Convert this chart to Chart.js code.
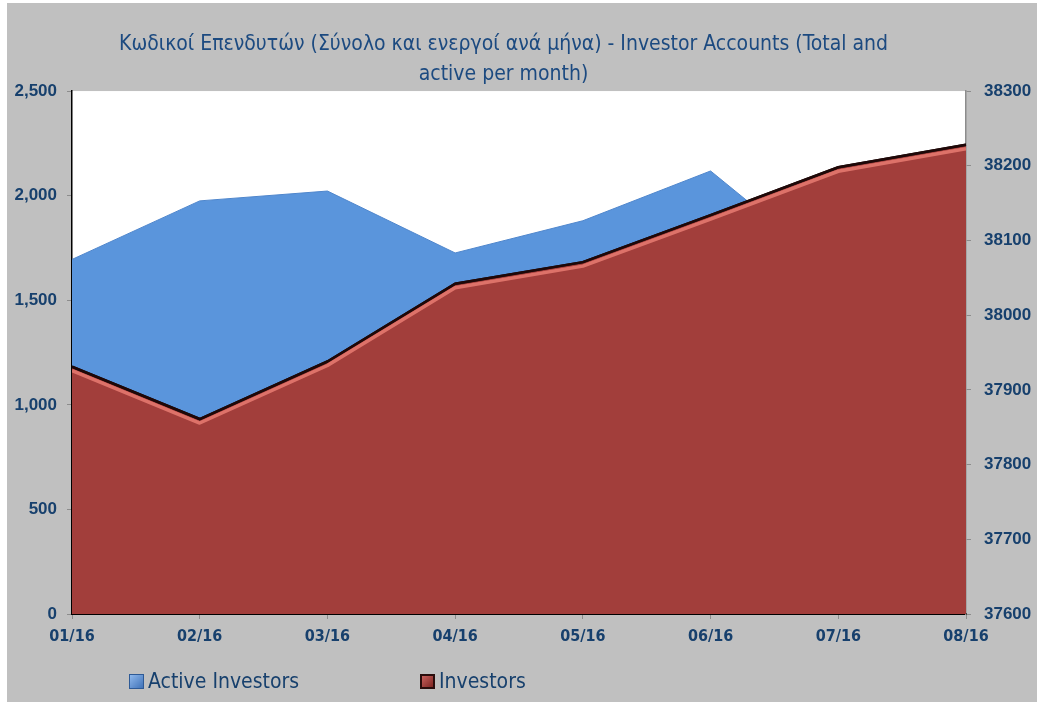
<!DOCTYPE html>
<html>
<head>
<meta charset="utf-8">
<script src="https://cdn.jsdelivr.net/npm/chart.js@4.4.1/dist/chart.umd.min.js"></script>
<style>
  html, body { margin: 0; padding: 0; background: #ffffff; }
  #fondo {
    position: absolute; left: 7px; top: 3px; width: 1030px; height: 699px;
    background: #c0c0c0;
  }
  #wrap { position: absolute; left: 0; top: 0; width: 1037px; height: 702px; }
  .leyenda {
    position: absolute; top: 668px; height: 26px; line-height: 26px;
    font-family: 'Liberation Sans Narrow', 'DejaVu Sans Condensed', sans-serif;
    font-size: 21px; color: #17406d; white-space: nowrap;
  }
  .caja {
    display: inline-block; width: 15px; height: 15px; vertical-align: -1px;
    margin-right: 4px; box-sizing: border-box;
  }
</style>
</head>
<body>
<div id="fondo"></div>
<div id="wrap"><canvas id="grafico" width="1037" height="702"></canvas></div>
<div class="leyenda" style="left:129px"><span class="caja" style="background:linear-gradient(135deg,#8fb8ec,#3f72b8);border:1px solid #2e5a96"></span>Active Investors</div>
<div class="leyenda" style="left:420px"><span class="caja" style="background:linear-gradient(135deg,#c9605c,#7d2522);border:2px solid #2a0d0c"></span>Investors</div>
<script>
// Datos
const meses = ["01/16", "02/16", "03/16", "04/16", "05/16", "06/16", "07/16", "08/16"];
const activos = [1695, 1975, 2022, 1726, 1880, 2118, 1620, 1660];
const inversores = [37931, 37861, 37938, 38042, 38071, 38134, 38198, 38228];

const titulo = ["Κωδικοί Επενδυτών (Σύνολο και ενεργοί ανά μήνα) - Investor Accounts (Total and", "active per month)"];

const azulTexto = "#17406d";
const fuenteEstrecha = "'Liberation Sans Narrow', 'DejaVu Sans Condensed', sans-serif";
const relleno = "\u00a0\u00a0\u00a0\u00a0\u00a0"; // desplaza el título un poco a la izquierda

// Fondo blanco del área de trazado
const fondoArea = {
  id: "fondoArea",
  beforeDraw(chart) {
    const { ctx, chartArea: a } = chart;
    ctx.save();
    ctx.fillStyle = "#ffffff";
    ctx.fillRect(a.left, a.top, a.right - a.left, a.bottom - a.top);
    ctx.restore();
  }
};

// Brillo rosado bajo el borde del área roja (usa los puntos ya escalados)
const brillo = {
  id: "brillo",
  afterDatasetsDraw(chart) {
    const pts = chart.getDatasetMeta(1).data;
    const a = chart.chartArea;
    const c = chart.ctx;
    c.save();
    c.beginPath();
    c.rect(a.left, a.top, a.right - a.left, a.bottom - a.top);
    c.clip();
    c.lineJoin = "round";
    c.strokeStyle = "rgba(236,128,118,0.8)";
    c.lineWidth = 3.5;
    c.beginPath();
    pts.forEach((p, i) => { if (i === 0) c.moveTo(p.x, p.y + 4); else c.lineTo(p.x, p.y + 4); });
    c.stroke();
    c.strokeStyle = "#1e0808";
    c.lineWidth = 2.5;
    c.beginPath();
    pts.forEach((p, i) => { if (i === 0) c.moveTo(p.x, p.y); else c.lineTo(p.x, p.y); });
    c.stroke();
    c.restore();
  }
};

const ctx = document.getElementById("grafico").getContext("2d");
const chart = new Chart(ctx, {
  type: "line",
  data: {
    labels: meses,
    datasets: [
      {
        label: "Active Investors",
        data: activos,
        yAxisID: "y",
        fill: "start",
        backgroundColor: "#5a95dc",
        borderColor: "#4f86cc",
        borderWidth: 1,
        pointRadius: 0,
        tension: 0,
        order: 2
      },
      {
        label: "Investors",
        data: inversores,
        yAxisID: "y1",
        fill: "start",
        backgroundColor: "#a23e3b",
        borderColor: "#1e0808",
        borderWidth: 2.5,
        pointRadius: 0,
        tension: 0,
        order: 1
      }
    ]
  },
  options: {
    responsive: false,
    animation: false,
    layout: { padding: { left: 0, right: 0, top: 0, bottom: 58 } },
    plugins: {
      legend: { display: false },
      tooltip: { enabled: false },
      title: {
        display: true,
        text: titulo.map(t => t + relleno),
        color: "#1c4a80",
        font: { family: fuenteEstrecha, size: 21, weight: "normal", lineHeight: 1.43 },
        padding: { top: 30, bottom: 1 }
      }
    },
    scales: {
      x: {
        offset: false,
        grid: { display: true, drawOnChartArea: false, tickLength: 5, color: "#8c8c8c" },
        border: { color: "#000000", width: 2 },
        ticks: {
          color: azulTexto, padding: 8, maxRotation: 0, autoSkip: false,
          font: { family: fuenteEstrecha, size: 16, weight: "bold" }
        },
        afterFit(s) { s.height = 30; }
      },
      y: {
        position: "left",
        min: 0, max: 2500,
        grid: { drawOnChartArea: false, tickLength: 5, color: "#8c8c8c" },
        border: { color: "#000000", width: 1.5 },
        ticks: {
          stepSize: 500, color: azulTexto, padding: 10,
          font: { family: "'Liberation Sans', Arial, sans-serif", size: 17, weight: "bold" },
          callback: v => v.toLocaleString("en-US")
        },
        afterFit(s) { s.width = 72; }
      },
      y1: {
        position: "right",
        min: 37600, max: 38300,
        grid: { drawOnChartArea: false, tickLength: 5, color: "#8c8c8c" },
        border: { color: "#8c8c8c", width: 1.5 },
        ticks: {
          stepSize: 100, color: azulTexto, padding: 13,
          font: { family: "'Liberation Sans', Arial, sans-serif", size: 17, weight: "bold" },
          callback: v => String(v)
        },
        afterFit(s) { s.width = 71; }
      }
    }
  },
  plugins: [fondoArea, brillo]
});
</script>
</body>
</html>
